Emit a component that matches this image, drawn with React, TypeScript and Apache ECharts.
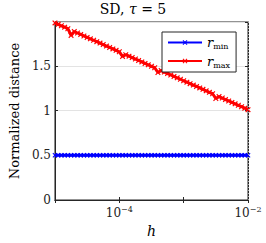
import React, { useEffect, useRef } from "react";
import * as echarts from "echarts";

const hValues = [
  1.000e-5, 1.122e-5, 1.259e-5, 1.413e-5, 1.585e-5, 1.778e-5, 1.995e-5, 2.239e-5, 2.512e-5, 2.818e-5,
  3.162e-5, 3.548e-5, 3.981e-5, 4.467e-5, 5.012e-5, 5.623e-5, 6.310e-5, 7.079e-5, 7.943e-5, 8.913e-5,
  1.000e-4, 1.122e-4, 1.259e-4, 1.413e-4, 1.585e-4, 1.778e-4, 1.995e-4, 2.239e-4, 2.512e-4, 2.818e-4,
  3.162e-4, 3.548e-4, 3.981e-4, 4.467e-4, 5.012e-4, 5.623e-4, 6.310e-4, 7.079e-4, 7.943e-4, 8.913e-4,
  1.000e-3, 1.122e-3, 1.259e-3, 1.413e-3, 1.585e-3, 1.778e-3, 1.995e-3, 2.239e-3, 2.512e-3, 2.818e-3,
  3.162e-3, 3.548e-3, 3.981e-3, 4.467e-3, 5.012e-3, 5.623e-3, 6.310e-3, 7.079e-3, 7.943e-3, 8.913e-3,
  1.000e-2,
];

const rMax = [
  1.980, 1.964, 1.948, 1.932, 1.915, 1.840, 1.883, 1.867, 1.851, 1.834,
  1.818, 1.802, 1.786, 1.770, 1.754, 1.738, 1.721, 1.705, 1.689, 1.673,
  1.657, 1.605, 1.624, 1.608, 1.592, 1.576, 1.560, 1.544, 1.527, 1.511,
  1.495, 1.479, 1.425, 1.447, 1.430, 1.414, 1.398, 1.382, 1.366, 1.350,
  1.333, 1.317, 1.301, 1.285, 1.269, 1.253, 1.237, 1.220, 1.204, 1.188,
  1.135, 1.156, 1.140, 1.123, 1.107, 1.091, 1.075, 1.059, 1.043, 1.027,
  1.010,
];

const rMin = [
  0.5, 0.5, 0.5, 0.5, 0.5, 0.5, 0.5, 0.5, 0.5, 0.5,
  0.5, 0.5, 0.5, 0.5, 0.5, 0.5, 0.5, 0.5, 0.5, 0.5,
  0.5, 0.5, 0.5, 0.5, 0.5, 0.5, 0.5, 0.5, 0.5, 0.5,
  0.5, 0.5, 0.5, 0.5, 0.5, 0.5, 0.5, 0.5, 0.5, 0.5,
  0.5, 0.5, 0.5, 0.5, 0.5, 0.5, 0.5, 0.5, 0.5, 0.5,
  0.5, 0.5, 0.5, 0.5, 0.5, 0.5, 0.5, 0.5, 0.5, 0.5,
  0.5,
];

const yTickLabels = ["0", "0.5", "1", "1.5"];
const xLabelled = [1e-4, 1e-2];
const xMajorGrid = [1e-4];
const xMinorGrid = [
  2e-5, 3e-5, 4e-5, 5e-5, 6e-5, 7e-5, 8e-5, 9e-5,
  2e-4, 3e-4, 4e-4, 5e-4, 6e-4, 7e-4, 8e-4, 9e-4,
  1e-3,
  2e-3, 3e-3, 4e-3, 5e-3, 6e-3, 7e-3, 8e-3, 9e-3,
];

const FONT = "DejaVu Serif";
const AX = "#262626";
const CROSS = "path://M0,1.5L1.5,0L5,3.5L8.5,0L10,1.5L6.5,5L10,8.5L8.5,10L5,6.5L1.5,10L0,8.5L3.5,5Z";

export default function App() {
  const ref = useRef<HTMLDivElement>(null);
  useEffect(() => {
    if (!ref.current) return;
    const chart = echarts.init(ref.current, null, { renderer: "svg" });
    const expLabel = (v: number) => {
      const e = Math.round(Math.log10(v));
      if (!xLabelled.some((x) => Math.abs(Math.log10(x) - e) < 1e-6)) return "";
      return "{b|10}{e|\u2212" + Math.abs(e) + "}";
    };
    chart.setOption({
      animation: false,
      textStyle: { fontFamily: FONT },
      graphic: [
        {
          type: "text",
          left: "center",
          top: 2,
          x: 14,
          style: {
            text: "{n|SD, }{i|\u03c4}{n| = 5}",
            fontFamily: FONT,
            fontSize: 14,
            fill: "#000",
            rich: {
              n: { fontFamily: FONT, fontSize: 14, fill: "#000", color: "#000" },
              i: { fontFamily: FONT, fontSize: 14, fontStyle: "italic", fill: "#000", color: "#000" },
            },
          },
        },
      ],
      legend: {
        orient: "vertical",
        left: 162,
        top: 32,
        backgroundColor: "#fff",
        borderColor: AX,
        borderWidth: 1,
        borderRadius: 0,
        padding: [4, 6, 3, 5],
        itemWidth: 34,
        itemHeight: 6,
        itemGap: 4,
        data: ["rmin", "rmax"],
        formatter: (name: string) => "{r|r}{s|" + name.slice(1) + "}",
        textStyle: {
          fontFamily: FONT,
          rich: {
            r: { fontFamily: FONT, fontSize: 13, fontStyle: "italic", color: "#000", lineHeight: 16 },
            s: { fontFamily: FONT, fontSize: 8, color: "#000", verticalAlign: "bottom", lineHeight: 10, padding: [4, 0, 0, 0] },
          },
        },
      },
      grid: {
        left: 47,
        right: 18,
        top: 22,
        bottom: 43,
        show: true,
        borderColor: AX,
        borderWidth: 1,
        backgroundColor: "#fff",
      },
      xAxis: [
        {
          type: "log",
          logBase: 10,
          min: 1e-5,
          max: 1e-2,
          name: "h",
          nameLocation: "middle",
          nameGap: 24,
          nameTextStyle: { fontFamily: FONT, fontSize: 14, fontStyle: "italic", color: "#000" },
          axisLine: { show: true, lineStyle: { color: AX, width: 1 } },
          axisTick: { show: true, inside: true, length: 3, lineStyle: { color: AX } },
          axisLabel: {
            margin: 5,
            formatter: expLabel,
            showMinLabel: true,
            showMaxLabel: true,
            rich: {
              b: { fontFamily: FONT, fontSize: 12, color: "#222", lineHeight: 14, verticalAlign: "bottom" },
              e: { fontFamily: FONT, fontSize: 8, color: "#222", lineHeight: 14, verticalAlign: "top", padding: [0, 0, 6, 0] },
            },
          },
          splitLine: { show: false },
        },
        {
          type: "log",
          logBase: 10,
          min: 1e-5,
          max: 1e-2,
          position: "top",
          axisLine: { show: true, lineStyle: { color: AX, width: 1 } },
          axisTick: { show: true, inside: true, length: 3, lineStyle: { color: AX } },
          axisLabel: { show: false },
          splitLine: { show: false },
        },
      ],
      yAxis: [
        {
          type: "value",
          min: 0,
          max: 1.99,
          interval: 0.5,
          name: "Normalized distance",
          nameLocation: "middle",
          nameGap: 31,
          nameTextStyle: { fontFamily: FONT, fontSize: 13, color: "#000" },
          axisLine: { show: true, lineStyle: { color: AX, width: 1 } },
          axisTick: { show: true, inside: true, length: 3, lineStyle: { color: AX } },
          axisLabel: {
            margin: 4,
            fontFamily: FONT,
            fontSize: 12,
            color: "#222",
            formatter: (v: number) => {
              const s = String(Math.round(v * 100) / 100);
              return yTickLabels.includes(s) ? s : "";
            },
          },
          splitLine: { show: true, lineStyle: { color: "#e3e3e3", width: 1 } },
        },
        {
          type: "value",
          min: 0,
          max: 1.99,
          interval: 0.5,
          position: "right",
          axisLine: { show: true, lineStyle: { color: AX, width: 1 } },
          axisTick: { show: true, inside: true, length: 3, lineStyle: { color: AX } },
          axisLabel: { show: false },
          splitLine: { show: false },
        },
      ],
      series: [
        {
          name: "grid",
          type: "line",
          data: [],
          z: 1,
          silent: true,
          markLine: {
            silent: true,
            symbol: "none",
            label: { show: false },
            animation: false,
            data: [
              ...xMajorGrid.map((x) => ({ xAxis: x, lineStyle: { color: "#e3e3e3", width: 1, type: "solid" } })),
              ...xMinorGrid.map((x) => ({ xAxis: x, lineStyle: { color: "#aaaaaa", width: 0.8, type: [1, 2] } })),
            ],
          },
        },
        {
          name: "rmin",
          type: "line",
          data: hValues.map((h, i) => [h, rMin[i]]),
          color: "#0000ff",
          lineStyle: { width: 3, color: "#0000ff" },
          symbol: CROSS,
          symbolSize: 5,
          showAllSymbol: true,
          itemStyle: { color: "#0000ff" },
          z: 3,
        },
        {
          name: "rmax",
          type: "line",
          data: hValues.map((h, i) => [h, rMax[i]]),
          color: "#ff0000",
          lineStyle: { width: 3, color: "#ff0000" },
          symbol: CROSS,
          symbolSize: 5.5,
          showAllSymbol: true,
          itemStyle: { color: "#ff0000" },
          z: 3,
        },
      ],
    });
    return () => chart.dispose();
  }, []);
  return <div ref={ref} style={{ width: 266, height: 243, position: "absolute", left: 0, top: 0 }} />;
}
